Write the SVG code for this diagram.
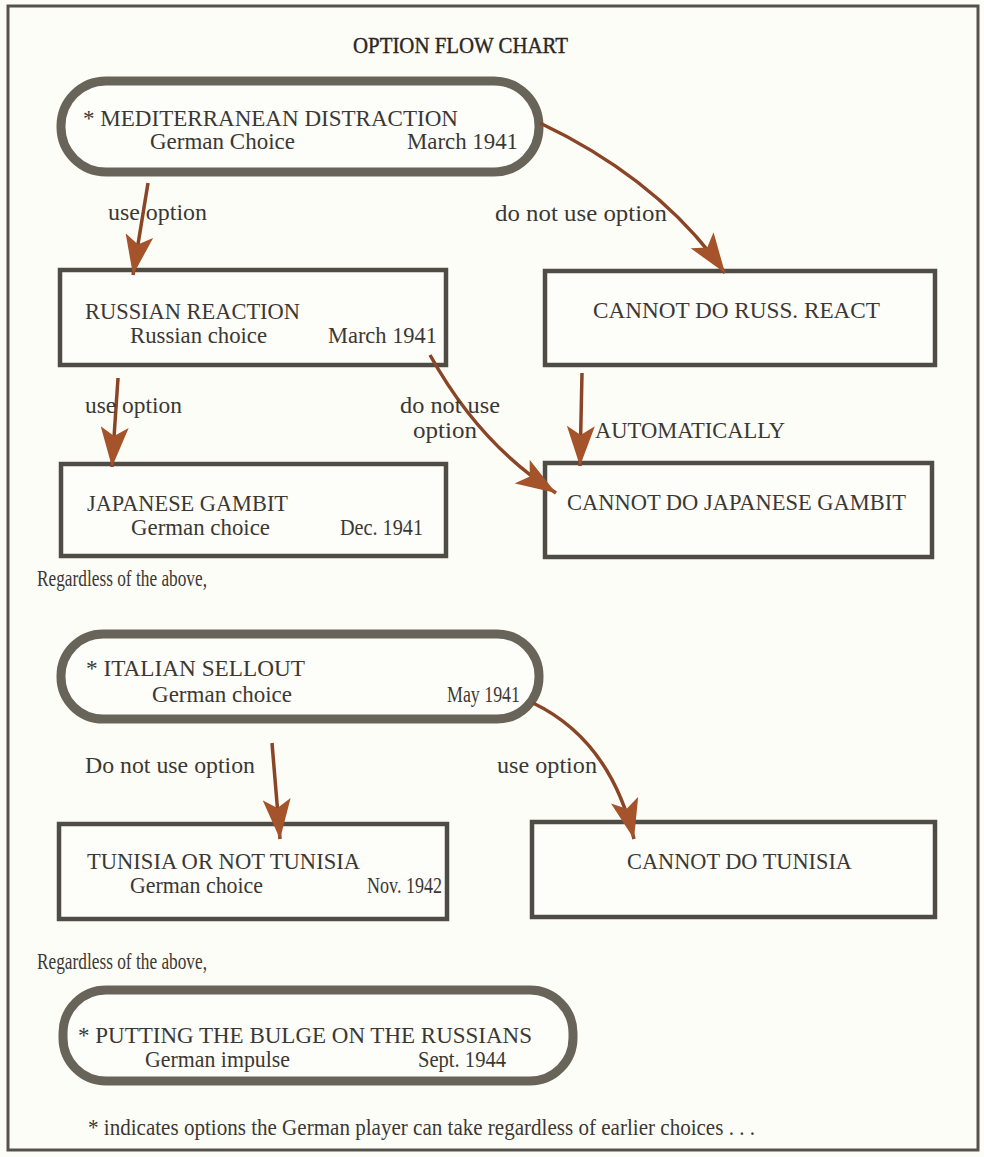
<svg xmlns="http://www.w3.org/2000/svg" width="984" height="1157" viewBox="0 0 984 1157">
<style>
text{font-family:"Liberation Serif","Times New Roman",serif;font-size:23px;fill:#3b3834}
.title{font-size:24px;fill:#2a2724;stroke:#2a2724;stroke-width:0.4}
.pill{fill:#fdfdf9;stroke:#68645a;stroke-width:9}
.box{fill:#fdfdf9;stroke:#4f4b45;stroke-width:4.5}
.arr{fill:none;stroke:#8a4526;stroke-width:3.5}
</style>
<defs>
<marker id="ah" viewBox="0 0 40 28" refX="40" refY="14" markerWidth="40" markerHeight="28" markerUnits="userSpaceOnUse" orient="auto">
<path d="M0,0 L40,14 L0,28 L9,14 Z" fill="#a5532a"/>
</marker>
</defs>
<rect x="0" y="0" width="984" height="1157" fill="#fdfdf8"/>
<rect x="8" y="6" width="970" height="1144" fill="none" stroke="#55524c" stroke-width="3"/>
<text class="title" x="353" y="53" textLength="215" lengthAdjust="spacingAndGlyphs">OPTION FLOW CHART</text>

<g id="n_med">
<rect class="pill" x="61" y="81" width="478" height="91" rx="45"/>
<text x="83" y="126" textLength="375" lengthAdjust="spacingAndGlyphs">* MEDITERRANEAN DISTRACTION</text>
<text x="150" y="149" textLength="145" lengthAdjust="spacingAndGlyphs">German Choice</text>
<text x="407" y="149" textLength="111" lengthAdjust="spacingAndGlyphs">March 1941</text>
</g>
<g id="n_russ">
<rect class="box" x="60" y="270" width="386" height="95"/>
<text x="85" y="319" textLength="215" lengthAdjust="spacingAndGlyphs">RUSSIAN REACTION</text>
<text x="130" y="343" textLength="137" lengthAdjust="spacingAndGlyphs">Russian choice</text>
<text x="328" y="343" textLength="109" lengthAdjust="spacingAndGlyphs">March 1941</text>
</g>
<g id="n_noruss">
<rect class="box" x="545" y="271" width="390" height="94"/>
<text x="593" y="318" textLength="287" lengthAdjust="spacingAndGlyphs">CANNOT DO RUSS. REACT</text>
</g>
<g id="n_jap">
<rect class="box" x="61" y="464" width="385" height="92"/>
<text x="87" y="511" textLength="201" lengthAdjust="spacingAndGlyphs">JAPANESE GAMBIT</text>
<text x="131" y="535" textLength="139" lengthAdjust="spacingAndGlyphs">German choice</text>
<text x="340" y="535" textLength="83" lengthAdjust="spacingAndGlyphs">Dec. 1941</text>
</g>
<g id="n_nojap">
<rect class="box" x="545" y="463" width="387" height="94"/>
<text x="567" y="510" textLength="339" lengthAdjust="spacingAndGlyphs">CANNOT DO JAPANESE GAMBIT</text>
</g>
<text x="37" y="586" textLength="170" lengthAdjust="spacingAndGlyphs">Regardless of the above,</text>
<g id="n_ital">
<rect class="pill" x="61" y="634" width="478" height="85" rx="42"/>
<text x="86" y="676" textLength="219" lengthAdjust="spacingAndGlyphs">* ITALIAN SELLOUT</text>
<text x="152" y="702" textLength="140" lengthAdjust="spacingAndGlyphs">German choice</text>
<text x="447" y="702" textLength="73" lengthAdjust="spacingAndGlyphs">May 1941</text>
</g>
<g id="n_tun">
<rect class="box" x="59" y="824" width="388" height="95"/>
<text x="87" y="869" textLength="273" lengthAdjust="spacingAndGlyphs">TUNISIA OR NOT TUNISIA</text>
<text x="130" y="893" textLength="133" lengthAdjust="spacingAndGlyphs">German choice</text>
<text x="367" y="893" textLength="75" lengthAdjust="spacingAndGlyphs">Nov. 1942</text>
</g>
<g id="n_notun">
<rect class="box" x="532" y="822" width="403" height="95"/>
<text x="627" y="869" textLength="225" lengthAdjust="spacingAndGlyphs">CANNOT DO TUNISIA</text>
</g>
<text x="37" y="969" textLength="170" lengthAdjust="spacingAndGlyphs">Regardless of the above,</text>
<g id="n_bulge">
<rect class="pill" x="63" y="990" width="510" height="91" rx="43"/>
<text x="78" y="1043" textLength="454" lengthAdjust="spacingAndGlyphs">* PUTTING THE BULGE ON THE RUSSIANS</text>
<text x="145" y="1067" textLength="145" lengthAdjust="spacingAndGlyphs">German impulse</text>
<text x="418" y="1067" textLength="88" lengthAdjust="spacingAndGlyphs">Sept. 1944</text>
</g>
<text x="88" y="1135" textLength="667" lengthAdjust="spacingAndGlyphs">* indicates options the German player can take regardless of earlier choices . . .</text>

<g id="connectors">
<path class="arr" d="M148 183 L133 275" marker-end="url(#ah)"/>
<path class="arr" d="M540 123 Q660 180 725 273" marker-end="url(#ah)"/>
<path class="arr" d="M118 378 L112 467" marker-end="url(#ah)"/>
<path class="arr" d="M430 355 Q480 445 556 493" marker-end="url(#ah)"/>
<path class="arr" d="M582 373 L580 466" marker-end="url(#ah)"/>
<path class="arr" d="M272 743 L280 839" marker-end="url(#ah)"/>
<path class="arr" d="M533 703 Q610 740 634 839" marker-end="url(#ah)"/>
</g>
<g id="labels">
<text x="108" y="220" textLength="99" lengthAdjust="spacingAndGlyphs">use option</text>
<text x="495" y="221" textLength="172" lengthAdjust="spacingAndGlyphs">do not use option</text>
<text x="85" y="413" textLength="97" lengthAdjust="spacingAndGlyphs">use option</text>
<text x="400" y="413" textLength="100" lengthAdjust="spacingAndGlyphs">do not use</text>
<text x="413" y="438" textLength="64" lengthAdjust="spacingAndGlyphs">option</text>
<text x="595" y="438" textLength="190" lengthAdjust="spacingAndGlyphs">AUTOMATICALLY</text>
<text x="85" y="773" textLength="170" lengthAdjust="spacingAndGlyphs">Do not use option</text>
<text x="497" y="773" textLength="100" lengthAdjust="spacingAndGlyphs">use option</text>
</g>
</svg>
